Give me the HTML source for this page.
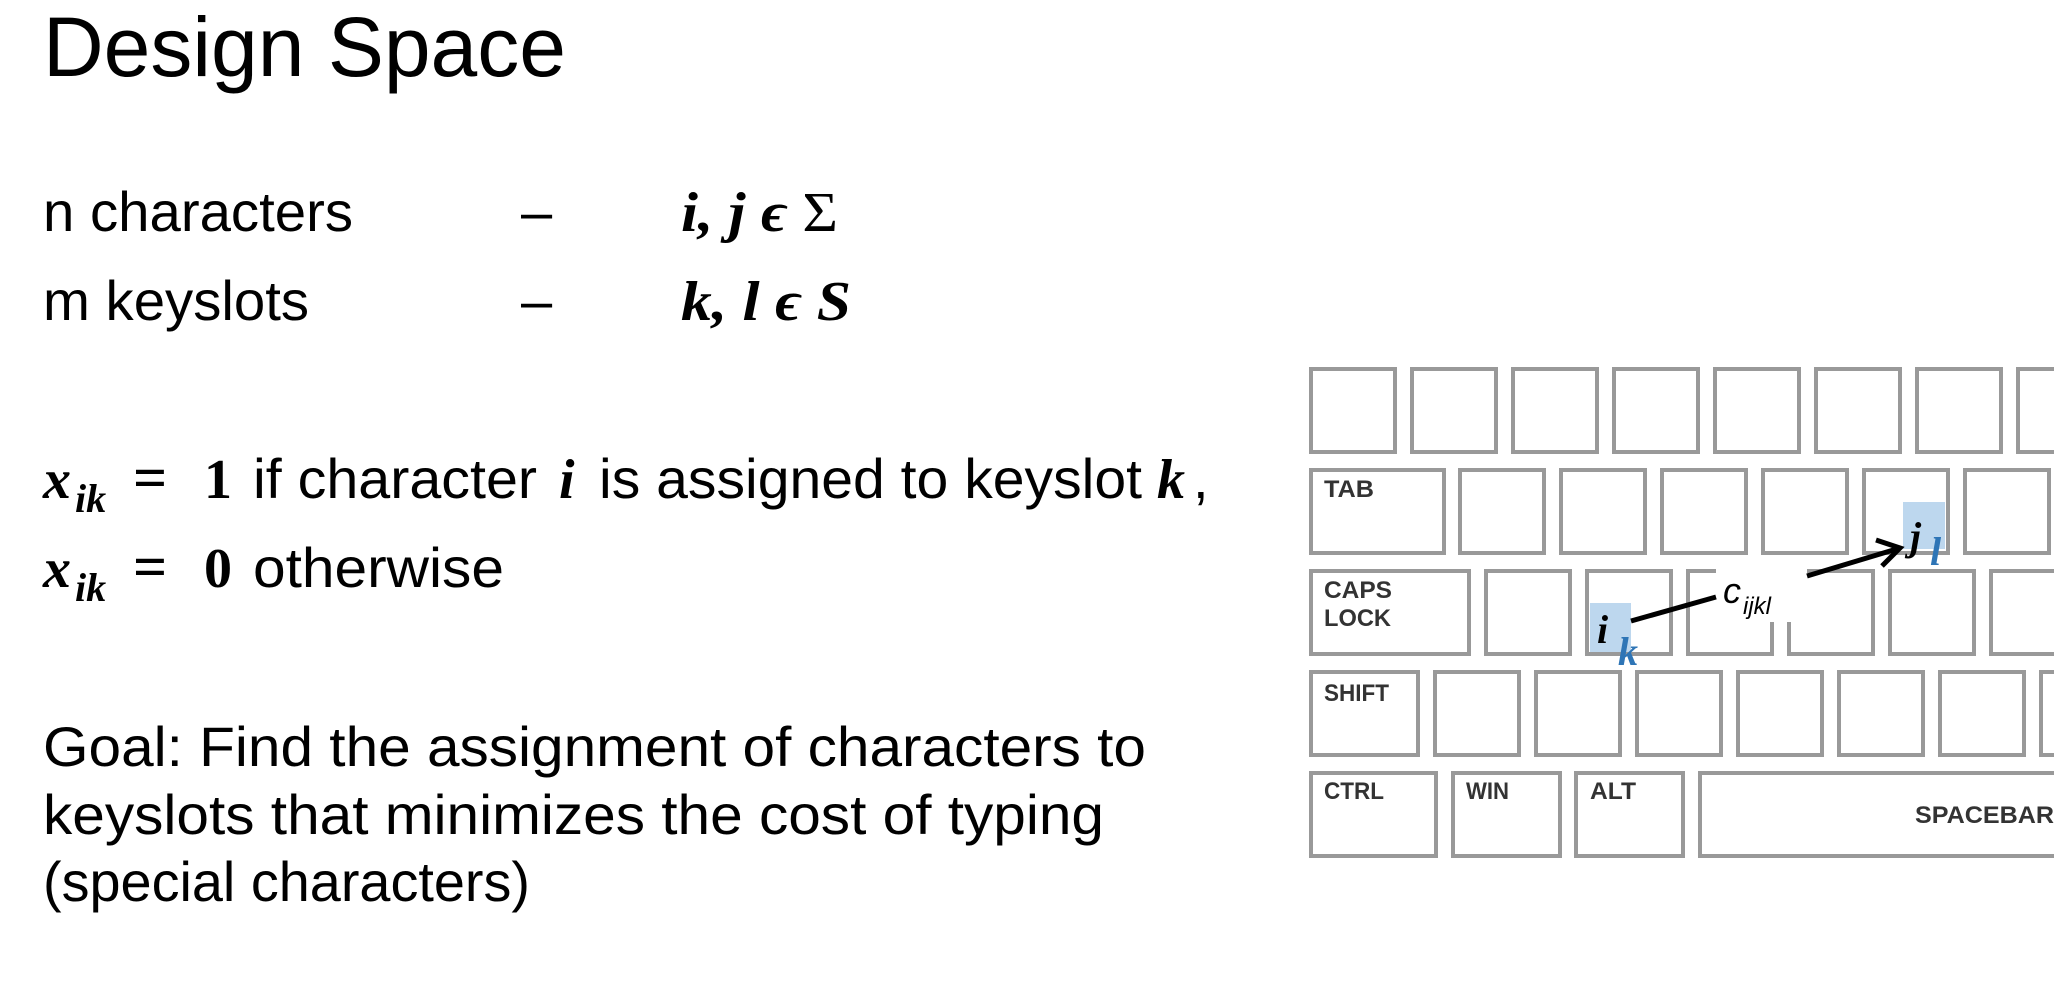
<!DOCTYPE html>
<html><head><meta charset="utf-8"><style>
html,body{margin:0;padding:0;background:#fff;}
svg{display:block}
.s{font-family:"Liberation Sans",sans-serif;fill:#000}
.m{font-family:"Liberation Serif",serif;font-style:italic;font-weight:bold;fill:#000}
.k{fill:#fff;stroke:#999;stroke-width:4}
.kl{font-family:"Liberation Sans",sans-serif;font-weight:bold;font-size:24px;fill:#333}
</style></head><body>
<svg width="2054" height="1000" viewBox="0 0 2054 1000" xmlns="http://www.w3.org/2000/svg">
<text class="s" x="43" y="76" font-size="84" textLength="523" lengthAdjust="spacingAndGlyphs">Design Space</text>

<text class="s" x="43" y="231" font-size="56" textLength="310" lengthAdjust="spacingAndGlyphs">n characters</text>
<text class="s" x="521" y="231" font-size="56">–</text>
<text class="m" x="681" y="231" font-size="56" textLength="157" lengthAdjust="spacingAndGlyphs">i, j ϵ <tspan font-style="normal" font-weight="normal">Σ</tspan></text>

<text class="s" x="43" y="320" font-size="56" textLength="266" lengthAdjust="spacingAndGlyphs">m keyslots</text>
<text class="s" x="521" y="320" font-size="56">–</text>
<text class="m" x="681" y="320" font-size="56" textLength="170" lengthAdjust="spacingAndGlyphs">k, l ϵ S</text>

<text class="m" x="43" y="498" font-size="56">x</text>
<text class="m" x="75" y="512" font-size="40">ik</text>
<text x="133" y="498" font-size="60" font-family="Liberation Serif,serif" font-weight="bold">=</text>
<text x="204" y="498" font-size="56" font-family="Liberation Serif,serif" font-weight="bold">1</text>
<text class="s" x="253" y="498" font-size="56" textLength="284" lengthAdjust="spacingAndGlyphs">if character</text>
<text class="m" x="559" y="498" font-size="56">i</text>
<text class="s" x="599" y="498" font-size="56" textLength="543" lengthAdjust="spacingAndGlyphs">is assigned to keyslot</text>
<text class="m" x="1157" y="498" font-size="56">k</text>
<text class="s" x="1193" y="498" font-size="56">,</text>

<text class="m" x="43" y="587" font-size="56">x</text>
<text class="m" x="75" y="601" font-size="40">ik</text>
<text x="133" y="587" font-size="60" font-family="Liberation Serif,serif" font-weight="bold">=</text>
<text x="204" y="587" font-size="56" font-family="Liberation Serif,serif" font-weight="bold">0</text>
<text class="s" x="253" y="587" font-size="56" textLength="251" lengthAdjust="spacingAndGlyphs">otherwise</text>

<text class="s" x="43" y="766" font-size="56" textLength="1103" lengthAdjust="spacingAndGlyphs">Goal:  Find the assignment of characters to</text>
<text class="s" x="43" y="834" font-size="56" textLength="1061" lengthAdjust="spacingAndGlyphs">keyslots that minimizes the cost of typing</text>
<text class="s" x="43" y="901" font-size="56" textLength="487" lengthAdjust="spacingAndGlyphs">(special characters)</text>

<g>
<rect class="k" x="1311" y="369" width="84" height="83"/>
<rect class="k" x="1412" y="369" width="84" height="83"/>
<rect class="k" x="1513" y="369" width="84" height="83"/>
<rect class="k" x="1614" y="369" width="84" height="83"/>
<rect class="k" x="1715" y="369" width="84" height="83"/>
<rect class="k" x="1816" y="369" width="84" height="83"/>
<rect class="k" x="1917" y="369" width="84" height="83"/>
<rect class="k" x="2018" y="369" width="84" height="83"/>
<rect class="k" x="1311" y="470" width="133" height="83"/>
<rect class="k" x="1460" y="470" width="84" height="83"/>
<rect class="k" x="1561" y="470" width="84" height="83"/>
<rect class="k" x="1662" y="470" width="84" height="83"/>
<rect class="k" x="1763" y="470" width="84" height="83"/>
<rect class="k" x="1864" y="470" width="84" height="83"/>
<rect class="k" x="1965" y="470" width="84" height="83"/>
<rect class="k" x="1311" y="571" width="158" height="83"/>
<rect class="k" x="1486" y="571" width="84" height="83"/>
<rect class="k" x="1587" y="571" width="84" height="83"/>
<rect class="k" x="1688" y="571" width="84" height="83"/>
<rect class="k" x="1789" y="571" width="84" height="83"/>
<rect class="k" x="1890" y="571" width="84" height="83"/>
<rect class="k" x="1991" y="571" width="84" height="83"/>
<rect class="k" x="1311" y="672" width="107" height="83"/>
<rect class="k" x="1435" y="672" width="84" height="83"/>
<rect class="k" x="1536" y="672" width="84" height="83"/>
<rect class="k" x="1637" y="672" width="84" height="83"/>
<rect class="k" x="1738" y="672" width="84" height="83"/>
<rect class="k" x="1839" y="672" width="84" height="83"/>
<rect class="k" x="1940" y="672" width="84" height="83"/>
<rect class="k" x="2041" y="672" width="84" height="83"/>
<rect class="k" x="1311" y="773" width="125" height="83"/>
<rect class="k" x="1453" y="773" width="107" height="83"/>
<rect class="k" x="1576" y="773" width="107" height="83"/>
<rect class="k" x="1700" y="773" width="400" height="83"/>

<text class="kl" x="1324" y="497" textLength="50" lengthAdjust="spacingAndGlyphs">TAB</text>
<text class="kl" x="1324" y="598" textLength="68" lengthAdjust="spacingAndGlyphs">CAPS</text>
<text class="kl" x="1324" y="626" textLength="67" lengthAdjust="spacingAndGlyphs">LOCK</text>
<text class="kl" x="1324" y="701" textLength="65" lengthAdjust="spacingAndGlyphs">SHIFT</text>
<text class="kl" x="1324" y="799" textLength="60" lengthAdjust="spacingAndGlyphs">CTRL</text>
<text class="kl" x="1466" y="799" textLength="43" lengthAdjust="spacingAndGlyphs">WIN</text>
<text class="kl" x="1590" y="799" textLength="46" lengthAdjust="spacingAndGlyphs">ALT</text>
<text class="kl" x="1915" y="823" textLength="139" lengthAdjust="spacingAndGlyphs">SPACEBAR</text>

<rect x="1716" y="566" width="91" height="56" fill="#fff"/>

<rect x="1590" y="603" width="41" height="49" fill="#bdd7ee"/>
<rect x="1903" y="502" width="42" height="47" fill="#bdd7ee"/>
<text class="m" x="1597" y="643" font-size="40">i</text>
<text class="m" x="1618" y="665" font-size="40" style="fill:#2e75b6">k</text>
<text class="m" x="1910" y="550" font-size="40">j</text>
<text class="m" x="1930" y="565" font-size="40" style="fill:#2e75b6">l</text>

<line x1="1631" y1="621" x2="1716" y2="597" stroke="#000" stroke-width="5"/>
<line x1="1807" y1="576" x2="1900" y2="548" stroke="#000" stroke-width="5"/>
<polyline points="1876,540 1900,548 1882,566" fill="none" stroke="#000" stroke-width="5"/>
<text x="1723" y="603" font-family="Liberation Sans,sans-serif" font-style="italic" font-size="36">c</text>
<text x="1743" y="614" font-family="Liberation Sans,sans-serif" font-style="italic" font-size="24">ijkl</text>
</g>
</svg>
</body></html>
